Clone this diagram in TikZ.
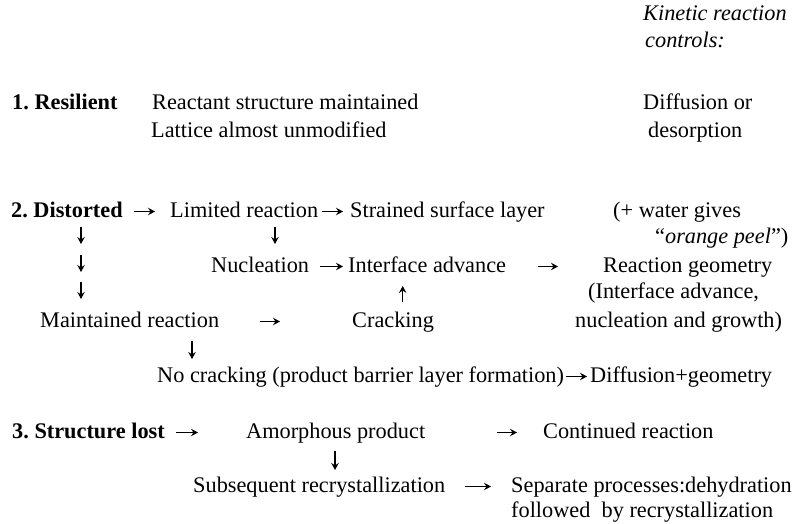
\documentclass[tikz,border=0pt]{standalone}
\usepackage{fontspec}
\setmainfont{Liberation Serif}
\usetikzlibrary{arrows.meta}
\frenchspacing

\begin{document}
\begin{tikzpicture}[
  x=1pt, y=-1pt,
  txt/.style={anchor=base west, inner sep=0pt,
    font=\fontsize{22.3}{26}\selectfont},
  head/.style={txt, font=\fontsize{22.3}{26}\selectfont\bfseries},
  arr/.style={line width=1.1pt,
    -{Stealth[length=7pt, width=7.5pt, inset=2.5pt]}}
]
\useasboundingbox (0,0) rectangle (792,524);

% right column heading
\node[txt, font=\fontsize{22.3}{26}\selectfont\itshape] (kin) at (643,21) {Kinetic reaction};
\node[txt, font=\fontsize{22.3}{26}\selectfont\itshape] (ctrl) at (645,48) {controls:};

% 1. resilient
\node[head] (res) at (12,110) {1. Resilient};
\node[txt] (keep) at (152,110) {Reactant structure maintained};
\node[txt] (lat) at (151,137) {Lattice almost unmodified};
\node[txt] (diff) at (643,110) {Diffusion or};
\node[txt] (desorp) at (648,137) {desorption};

% 2. distorted
\node[head] (dist) at (11,217) {2. Distorted};
\node[txt] (lim) at (170,217) {Limited reaction};
\node[txt] (strain) at (350,217) {Strained surface layer};
\node[txt] (water) at (613,217) {(+ water gives};
\node[txt] (peel) at (655,243) {“\textit{orange peel}”)};
\node[txt] (nuc) at (211,272) {Nucleation};
\node[txt] (iface) at (348,272) {Interface advance};
\node[txt] (geom) at (603,272) {Reaction geometry};
\node[txt] (ifadv) at (588,298) {(Interface advance,};
\node[txt] (maint) at (40,327) {Maintained reaction};
\node[txt] (crack) at (352,327) {Cracking};
\node[txt] (nucgr) at (575,327) {nucleation and growth)};
\node[txt] (nocrack) at (157,382) {No cracking (product barrier layer formation)};
\node[txt] (diffgeo) at (590,382) {Diffusion+geometry};

% 3. structure lost
\node[head] (lost) at (12,438) {3. Structure lost};
\node[txt] (amor) at (246,438) {Amorphous product};
\node[txt] (cont) at (543,438) {Continued reaction};
\node[txt] (subs) at (193,492) {Subsequent recrystallization};
\node[txt] (sep) at (511,492) {Separate processes:dehydration};
\node[txt] (foll) at (511,517) {followed\ \ by recrystallization};

% horizontal arrows
\draw[arr] ([xshift=123pt,yshift=5.5pt]dist.base west) -- ([xshift=-15pt,yshift=5.5pt]lim.base west);
\draw[arr] ([xshift=152pt,yshift=5.5pt]lim.base west) -- ([xshift=-7pt,yshift=5.5pt]strain.base west);
\draw[arr] ([xshift=109pt,yshift=5.5pt]nuc.base west) -- ([xshift=-5pt,yshift=5.5pt]iface.base west);
\draw[arr] ([xshift=190pt,yshift=5.5pt]iface.base west) -- ([xshift=-45pt,yshift=5.5pt]geom.base west);
\draw[arr] ([xshift=220pt,yshift=5.5pt]maint.base west) -- ([xshift=-72pt,yshift=5.5pt]crack.base west);
\draw[arr] ([xshift=409pt,yshift=5.5pt]nocrack.base west) -- ([xshift=-3pt,yshift=5.5pt]diffgeo.base west);
\draw[arr] ([xshift=164pt,yshift=5.5pt]lost.base west) -- ([xshift=-48pt,yshift=5.5pt]amor.base west);
\draw[arr] ([xshift=251pt,yshift=5.5pt]amor.base west) -- ([xshift=-26pt,yshift=5.5pt]cont.base west);
\draw[arr] ([xshift=272pt,yshift=5.5pt]subs.base west) -- ([xshift=-20pt,yshift=5.5pt]sep.base west);

% vertical arrows
\draw[arr] ([xshift=70pt,yshift=-10pt]dist.base west) -- ++(0,17);
\draw[arr] ([xshift=70pt,yshift=-38pt]dist.base west) -- ++(0,17);
\draw[arr] ([xshift=70pt,yshift=-65pt]dist.base west) -- ([xshift=41pt,yshift=28pt]maint.base west);
\draw[arr] ([xshift=105pt,yshift=-10pt]lim.base west) -- ([xshift=64pt,yshift=28pt]nuc.base west);
\draw[arr] ([xshift=50.7pt,yshift=25pt]crack.base west) -- ([xshift=54.7pt,yshift=-14pt]iface.base west);
\draw[arr] ([xshift=152pt,yshift=-14pt]maint.base west) -- ([xshift=35pt,yshift=23pt]nocrack.base west);
\draw[arr] ([xshift=89pt,yshift=-13pt]amor.base west) -- ([xshift=142pt,yshift=22pt]subs.base west);
\end{tikzpicture}
\end{document}
